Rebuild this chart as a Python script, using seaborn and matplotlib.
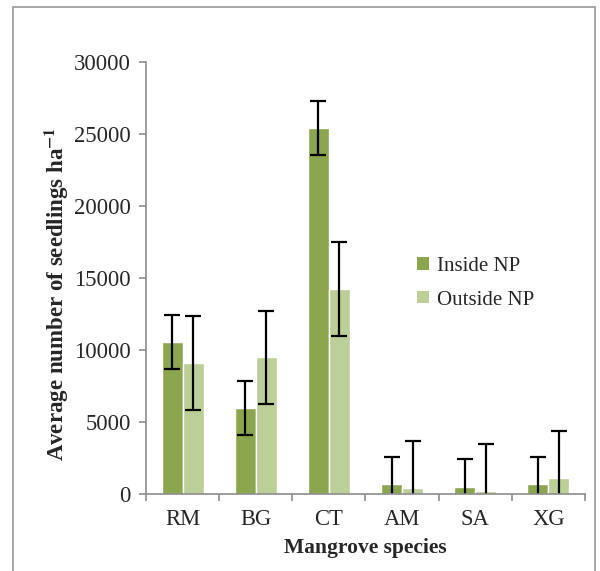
import numpy as np
import pandas as pd
import seaborn as sns
from matplotlib import pyplot as plt
from matplotlib.patches import Patch, Rectangle
from matplotlib.ticker import FixedLocator

species = ['RM', 'BG', 'CT', 'AM', 'SA', 'XG']
inside_np = [10550, 5980, 25420, 700, 520, 660]
outside_np = [9100, 9480, 14240, 430, 230, 1110]
inside_err = [1900, 1900, 1900, 1900, 1900, 1900]
outside_err = [3260, 3260, 3260, 3260, 3260, 3260]
sites = ['Inside NP', 'Outside NP']
colors = ['#8BA64E', '#BCCF98']

sns.set_style('white')
plt.rcParams['font.family'] = ['Liberation Serif', 'DejaVu Serif']
plt.rcParams['mathtext.fontset'] = 'stix'

# long format table for seaborn
df = pd.DataFrame({
    'species': species * 2,
    'site': [sites[0]] * len(species) + [sites[1]] * len(species),
    'value': inside_np + outside_np,
    'err': inside_err + outside_err,
})

fig = plt.figure(figsize=(6, 5.71), dpi=100)
ax = fig.add_axes([146 / 600, 1 - 494 / 571, 439 / 600, 432 / 571])

sns.barplot(data=df, x='species', y='value', hue='site', order=species,
            hue_order=sites, palette=colors, width=0.575, gap=0,
            errorbar=None, saturation=1, legend=False, ax=ax)

# error bars at the bar centres
for patches, site in zip(ax.containers, sites):
    sub = df[df['site'] == site]
    xs = [p.get_x() + p.get_width() / 2 for p in patches]
    ax.errorbar(xs, sub['value'], yerr=sub['err'], fmt='none',
                ecolor='black', elinewidth=1.6, capsize=6, capthick=1.6)

ax.set_xlim(-0.5, len(species) - 0.5)
ax.set_ylim(0, 30000)
ax.set_yticks(np.arange(0, 30001, 5000))
ax.xaxis.set_minor_locator(FixedLocator(np.arange(-0.5, len(species), 1)))

for side in ['top', 'right']:
    ax.spines[side].set_visible(False)
for side in ['left', 'bottom']:
    ax.spines[side].set_color('#8c8c8c')
    ax.spines[side].set_linewidth(1.2)

ax.tick_params(axis='y', which='major', direction='out', length=5, width=1.2,
               color='#8c8c8c', labelsize=16.3, pad=6, left=True)
ax.tick_params(axis='x', which='major', length=0, labelsize=16.3, pad=11)
ax.tick_params(axis='x', which='minor', direction='out', length=5, width=1.2,
               color='#8c8c8c', bottom=True)

ax.set_xlabel('Mangrove species', fontsize=15.5, fontweight='bold')
ax.set_ylabel('Average number of seedlings ha$^{\\mathbf{-1}}$',
              fontsize=16.5, fontweight='bold')
ax.xaxis.set_label_coords(0.5, -0.103)
ax.yaxis.set_label_coords(-0.171, 0.463)

handles = [Patch(facecolor=c, edgecolor='none') for c in colors]
ax.legend(handles, sites, loc='upper left', bbox_to_anchor=(0.575, 0.592),
          frameon=False, fontsize=15, handlelength=0.55, handleheight=0.55,
          handletextpad=0.4, labelspacing=0.7)

# outer chart border
fig.patches.append(Rectangle((13 / 600, -0.05), 582 / 600, 1.05 - 7 / 571,
                             transform=fig.transFigure, fill=False,
                             edgecolor='#9a9a9a', linewidth=1.2))

fig.savefig('out.png', dpi=100)
